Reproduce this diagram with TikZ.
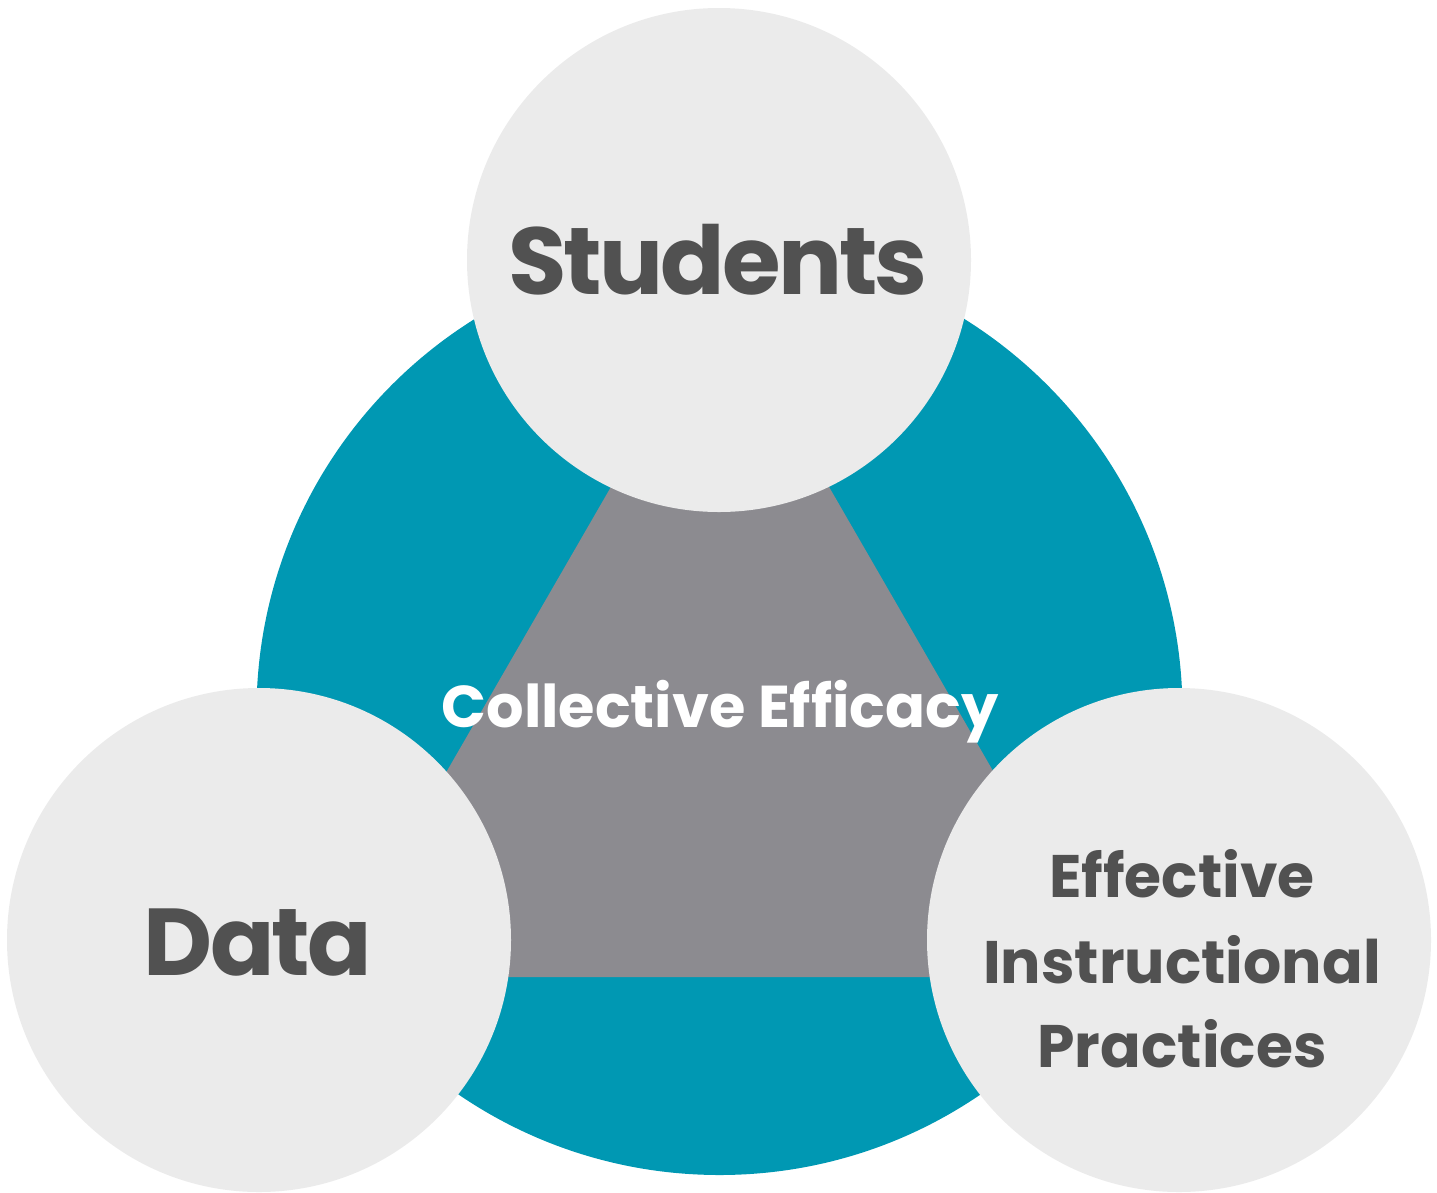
\documentclass[tikz,border=0pt]{standalone}
\usepackage{fontspec}
\setmainfont{Poppins}
\newfontfamily\tightfont[LetterSpace=-3.0]{Poppins}
\definecolor{teal1}{HTML}{0098B3}
\definecolor{tri}{HTML}{8C8B90}
\definecolor{disc}{HTML}{EBEBEB}
\definecolor{txt}{HTML}{515151}
\begin{document}
\begin{tikzpicture}[x=1pt,y=-1pt,
  discc/.style={circle,fill=disc,minimum size=504pt,inner sep=0pt},
  lbl/.style={text=txt,inner sep=0pt,anchor=base}]
\useasboundingbox (0,0) rectangle (1437,1192);
\fill[teal1] (719.5,712) circle[radius=463];
\fill[tri] (328,977) -- (1112,977) -- (720,298) -- cycle;
\node[discc] (stu) at (719,260) {};
\node[discc] (dat) at (259,940) {};
\node[discc] (eip) at (1179,940) {};
\node[lbl,font=\tightfont\bfseries\fontsize{95}{95}\selectfont] (tstu) at (718,294) {Students};
\node[lbl,font=\tightfont\bfseries\fontsize{95}{95}\selectfont] (tdat) at (258,975) {Data};
\node[lbl,text=white,font=\bfseries\fontsize{59}{59}\selectfont] (tce) at (720,727) {Collective Efficacy};
\node[lbl,font=\bfseries\fontsize{60}{60}\selectfont] (te1) at (1182,897) {Effective};
\node[lbl,font=\bfseries\fontsize{60}{60}\selectfont] (te2) at (1182,983) {Instructional};
\node[lbl,font=\bfseries\fontsize{60}{60}\selectfont] (te3) at (1182,1067) {Practices};
\end{tikzpicture}
\end{document}
